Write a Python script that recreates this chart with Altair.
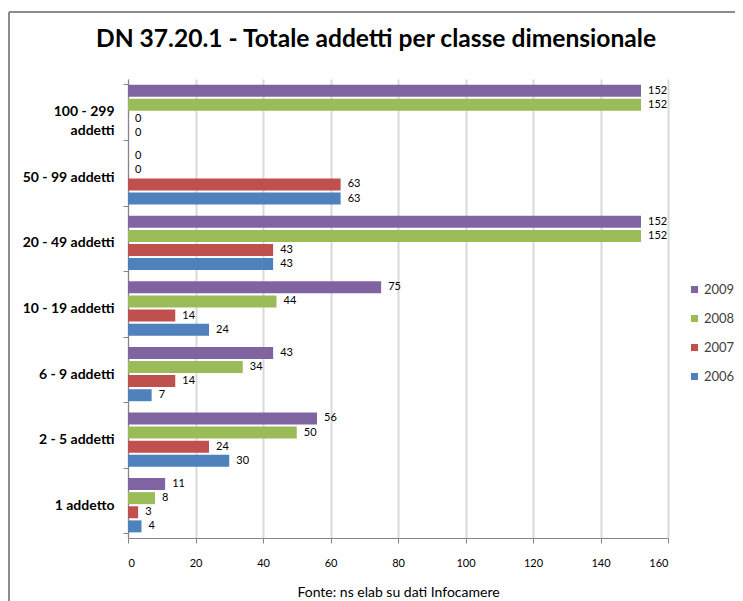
import altair as alt
import pandas as pd

categories = ["100 - 299 addetti", "50 - 99 addetti", "20 - 49 addetti",
              "10 - 19 addetti", "6 - 9 addetti", "2 - 5 addetti", "1 addetto"]
years = ["2009", "2008", "2007", "2006"]
v2009 = [152, 0, 152, 75, 43, 56, 11]
v2008 = [152, 0, 152, 44, 34, 50, 8]
v2007 = [0, 63, 43, 14, 14, 24, 3]
v2006 = [0, 63, 43, 24, 7, 30, 4]
colors = ["#8064A2", "#9BBB59", "#C0504D", "#4F81BD"]
x_ticks = [0, 20, 40, 60, 80, 100, 120, 140, 160]

series = {"2009": v2009, "2008": v2008, "2007": v2007, "2006": v2006}
rows = []
for yr in years:
    for cat, val in zip(categories, series[yr]):
        rows.append({"cat": cat, "year": yr, "value": val})
df = pd.DataFrame(rows)

FONT = "Lato"

y_enc = alt.Y("cat:N", sort=categories, title=None,
              scale=alt.Scale(paddingInner=0.14, paddingOuter=0.07),
              axis=alt.Axis(tickBand="extent", grid=False, labelFont=FONT,
                            labelFontSize=14, labelFontWeight="bold",
                            labelColor="#000000", labelPadding=9, tickSize=5,
                            tickColor="#868686", domainColor="#868686",
                            labelLineHeight=19,
                            labelExpr="datum.value == '100 - 299 addetti' ? ['100 - 299', 'addetti'] : datum.value"))
yoff_enc = alt.YOffset("year:N", sort=years,
                       scale=alt.Scale(paddingInner=0.14, paddingOuter=0.07))
x_enc = alt.X("value:Q", title="Fonte: ns elab su dati Infocamere",
              scale=alt.Scale(domain=[0, 160], nice=False),
              axis=alt.Axis(values=x_ticks, grid=True, gridColor="#D9D9D9",
                            gridWidth=2, tickSize=5, tickColor="#868686",
                            domainColor="#868686", labelFont=FONT,
                            labelFontSize=11, labelColor="#000000",
                            labelPadding=14, titleFont=FONT, titleFontSize=14,
                            titleFontWeight="normal", titleColor="#000000",
                            titlePadding=17))

base = alt.Chart(df)
bars = base.mark_bar(height=12).encode(
    x=x_enc,
    y=y_enc,
    yOffset=yoff_enc,
    color=alt.Color("year:N", sort=years,
                    scale=alt.Scale(domain=years, range=colors),
                    legend=alt.Legend(title=None, orient="none", legendX=560,
                                      legendY=204, symbolType="square",
                                      symbolSize=50, symbolStrokeWidth=0,
                                      labelFont=FONT, labelFontSize=13,
                                      labelColor="#404040", rowPadding=15,
                                      labelOffset=3)),
)
labels = base.mark_text(align="left", baseline="middle", dx=7, font=FONT,
                        fontSize=11, color="#000000").encode(
    x="value:Q",
    y=alt.Y("cat:N", sort=categories),
    yOffset=alt.YOffset("year:N", sort=years),
    text="value:Q",
)

frame_df = pd.DataFrame({"k": [0]})
frame_v = alt.Chart(frame_df).mark_rule(color="#8C8C8C", strokeWidth=2).encode(
    x=alt.value(-119), y=alt.value(-67), y2=alt.value(560))
frame_h = alt.Chart(frame_df).mark_rule(color="#8C8C8C", strokeWidth=2).encode(
    x=alt.value(-119), x2=alt.value(700), y=alt.value(-67))

chart = alt.layer(frame_v, frame_h, bars, labels).properties(
    width=540, height=459,
    autosize=alt.AutoSizeParams(type="none"),
    padding={"left": 120, "top": 71, "right": 67, "bottom": 63},
    title=alt.TitleParams("DN 37.20.1 - Totale addetti per classe dimensionale",
                          font=FONT, fontSize=24.6, fontWeight="bold",
                          color="#000000", anchor="middle", dx=-22, offset=-42),
).configure_view(stroke=None)

chart.save("out.html", embed_options={"renderer": "svg", "actions": False})
